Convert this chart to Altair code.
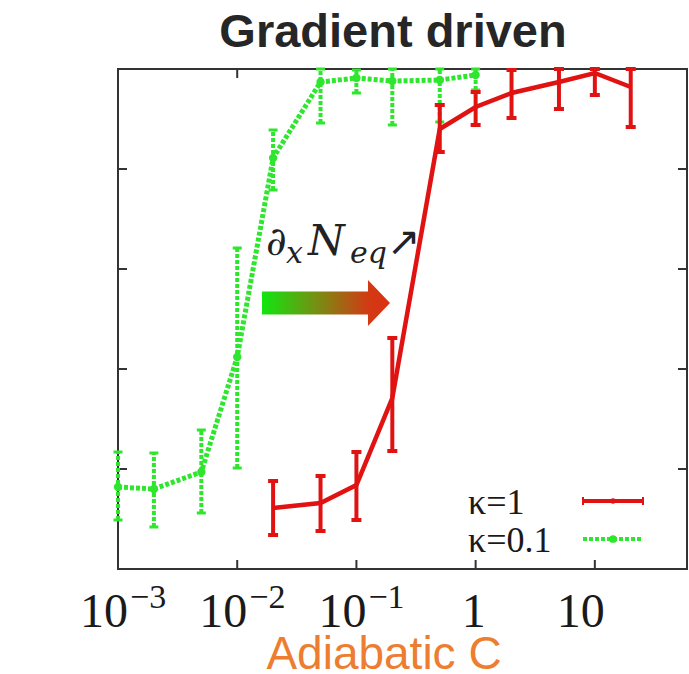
import altair as alt
import pandas as pd

# ---- data ----
C_green = [0.001, 0.002, 0.005, 0.01, 0.02, 0.05, 0.1, 0.2, 0.5, 1]
g_mean = [0.164, 0.160, 0.194, 0.424, 0.822, 0.974, 0.982, 0.976, 0.978, 0.988]
g_lo = [0.098, 0.084, 0.112, 0.202, 0.758, 0.892, 0.952, 0.888, 0.894, 0.958]
g_hi = [0.234, 0.232, 0.278, 0.642, 0.878, 1.0, 0.998, 1.0, 1.0, 1.0]

C_red = [0.02, 0.05, 0.1, 0.2, 0.5, 1, 2, 5, 10, 20]
r_mean = [0.122, 0.132, 0.168, 0.342, 0.880, 0.924, 0.952, 0.974, 0.992, 0.964]
r_lo = [0.068, 0.076, 0.098, 0.236, 0.834, 0.888, 0.902, 0.920, 0.948, 0.884]
r_hi = [0.176, 0.186, 0.234, 0.462, 0.928, 0.954, 0.998, 1.0, 1.0, 1.0]

x_tick_vals = [0.001, 0.01, 0.1, 1, 10]
x_tick_base = ["10", "10", "10", "1", "10"]
x_tick_exp = ["\u22123", "\u22122", "\u22121", "", ""]
y_tick_vals = [0.2, 0.4, 0.6, 0.8]

legend_labels = ["\u03ba=1", "\u03ba=0.1"]
title_text = "Gradient driven"
x_title = "Adiabatic C"

GREEN = "#2ee62e"
RED = "#e01212"
DARK = "#333333"

green = pd.DataFrame({"C": C_green, "m": g_mean, "lo": g_lo, "hi": g_hi})
red = pd.DataFrame({"C": C_red, "m": r_mean, "lo": r_lo, "hi": r_hi})
xt = pd.DataFrame({"v": x_tick_vals, "base": x_tick_base, "exp": x_tick_exp})
yt = pd.DataFrame({"v": y_tick_vals})
one = pd.DataFrame({"a": [0]})

xs = alt.Scale(type="log", domain=[0.001, 59.3], nice=False)
ys = alt.Scale(domain=[0, 1], nice=False, zero=False)
X = lambda f: alt.X(f, type="quantitative", scale=xs, axis=None)
Y = lambda f: alt.Y(f, type="quantitative", scale=ys, axis=None)

layers = []

# inward ticks
layers.append(alt.Chart(yt).mark_rule(color=DARK, strokeWidth=2).encode(
    y=Y("v"), x=alt.value(0), x2=alt.value(9)))
layers.append(alt.Chart(yt).mark_rule(color=DARK, strokeWidth=2).encode(
    y=Y("v"), x=alt.value(560), x2=alt.value(569)))
layers.append(alt.Chart(xt).mark_rule(color=DARK, strokeWidth=2).encode(
    x=X("v"), y=alt.value(491), y2=alt.value(500)))
layers.append(alt.Chart(xt).mark_rule(color=DARK, strokeWidth=2).encode(
    x=X("v"), y=alt.value(0), y2=alt.value(9)))

# green series
layers.append(alt.Chart(green).mark_rule(color=GREEN, strokeWidth=4, strokeDash=[4, 2]).encode(
    x=X("C"), y=Y("lo"), y2="hi"))
for f in ["lo", "hi"]:
    layers.append(alt.Chart(green).mark_tick(color=GREEN, orient="horizontal", size=9,
                                             thickness=3, opacity=1).encode(x=X("C"), y=Y(f)))
layers.append(alt.Chart(green).mark_line(color=GREEN, strokeWidth=5, strokeDash=[4, 2]).encode(
    x=X("C"), y=Y("m")))
layers.append(alt.Chart(green).mark_circle(color=GREEN, size=70, opacity=1).encode(
    x=X("C"), y=Y("m")))

# red series
layers.append(alt.Chart(red).mark_rule(color=RED, strokeWidth=4).encode(
    x=X("C"), y=Y("lo"), y2="hi"))
for f in ["lo", "hi"]:
    layers.append(alt.Chart(red).mark_tick(color=RED, orient="horizontal", size=10,
                                           thickness=4, opacity=1).encode(x=X("C"), y=Y(f)))
layers.append(alt.Chart(red).mark_line(color=RED, strokeWidth=4.5).encode(
    x=X("C"), y=Y("m")))

# x tick labels
layers.append(alt.Chart(xt).mark_text(font="Liberation Serif", fontSize=48, color="#1a1a1a",
                                      align="right", baseline="alphabetic", dx=10).encode(
    x=X("v"), y=alt.value(558), text="base:N"))
layers.append(alt.Chart(xt).mark_text(font="Liberation Serif", fontSize=34, color="#1a1a1a",
                                      align="left", baseline="alphabetic", dx=12).encode(
    x=X("v"), y=alt.value(539), text="exp:N"))

# title and x title
layers.append(alt.Chart(one).mark_text(text=title_text, font="Liberation Sans", fontSize=47,
                                       fontWeight="bold", color="#262626", align="center",
                                       baseline="alphabetic").encode(
    x=alt.value(275), y=alt.value(-22)))
layers.append(alt.Chart(one).mark_text(text=x_title, font="Liberation Sans", fontSize=46,
                                       color="#ED7D31", align="center",
                                       baseline="alphabetic").encode(
    x=alt.value(266), y=alt.value(600)))

# legend
leg_y = [432, 470]
for i, lab in enumerate(legend_labels):
    layers.append(alt.Chart(one).mark_text(text=lab, font="Liberation Serif", fontSize=36,
                                           color="#1a1a1a", align="left",
                                           baseline="alphabetic").encode(
        x=alt.value(350), y=alt.value(leg_y[i] + 13)))
layers.append(alt.Chart(one).mark_rule(color=RED, strokeWidth=4).encode(
    x=alt.value(465), x2=alt.value(525), y=alt.value(leg_y[0])))
for xv in [465, 525]:
    layers.append(alt.Chart(one).mark_rule(color=RED, strokeWidth=2).encode(
        x=alt.value(xv), y=alt.value(leg_y[0] - 4), y2=alt.value(leg_y[0] + 4)))
layers.append(alt.Chart(one).mark_circle(color=RED, size=30, opacity=1).encode(
    x=alt.value(495), y=alt.value(leg_y[0])))
layers.append(alt.Chart(one).mark_rule(color=GREEN, strokeWidth=4, strokeDash=[4, 2]).encode(
    x=alt.value(465), x2=alt.value(525), y=alt.value(leg_y[1])))
layers.append(alt.Chart(one).mark_circle(color=GREEN, size=60, opacity=1).encode(
    x=alt.value(495), y=alt.value(leg_y[1])))

# annotation  d_x N_eq  (with arrow)
ann = [
    ("\u2202", 148, 186, 40, "normal", "DejaVu Serif"),
    ("x", 168, 194, 30, "italic", "DejaVu Serif"),
    ("N", 190, 186, 42, "italic", "DejaVu Serif"),
    ("eq", 232, 194, 30, "italic", "DejaVu Serif"),
    ("\u2197", 269, 186, 40, "normal", "DejaVu Sans"),
]
for t, xv, yv, fs, st, fn in ann:
    layers.append(alt.Chart(one).mark_text(text=t, font=fn, fontSize=fs, fontStyle=st,
                                           color="#222222", align="left",
                                           baseline="alphabetic").encode(
        x=alt.value(xv), y=alt.value(yv)))

# gradient arrow
arrow_path = "M -1 -0.18 L 0.656 -0.18 L 0.656 -0.36 L 1 0 L 0.656 0.36 L 0.656 0.18 L -1 0.18 Z"
grad = alt.LinearGradient(gradient="linear", x1=0, x2=1, y1=0, y2=0, stops=[
    alt.GradientStop(color="#10e610", offset=0),
    alt.GradientStop(color="#7c8a12", offset=0.45),
    alt.GradientStop(color="#d23a14", offset=0.83),
    alt.GradientStop(color="#dc3012", offset=1),
])
layers.append(alt.Chart(one).mark_point(shape=arrow_path, size=16384, filled=True, fill=grad,
                                        strokeWidth=0, opacity=1).encode(
    x=alt.value(208), y=alt.value(234)))

chart = alt.layer(*layers).properties(
    width=569, height=500, autosize="none",
    padding={"left": 118, "top": 69, "right": 2, "bottom": 105},
    background="white",
).configure_view(stroke=DARK, strokeWidth=2)

chart.save("out.html", embed_options={"renderer": "svg", "actions": False})
